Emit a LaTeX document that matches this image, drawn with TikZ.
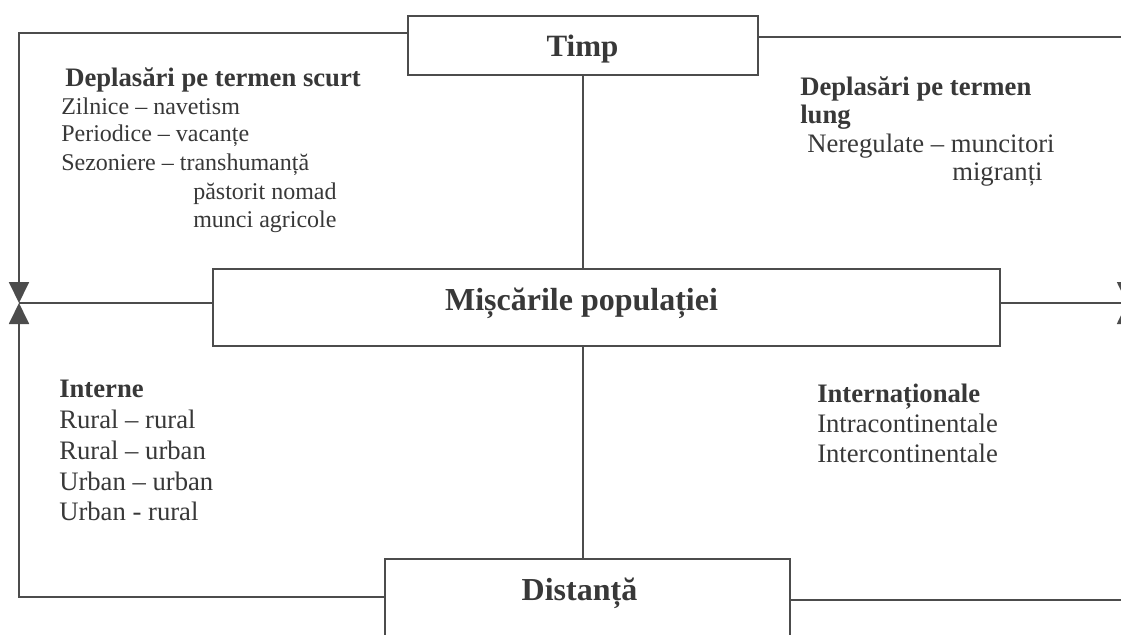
\documentclass[tikz,border=0pt]{standalone}
\usepackage{fontspec}
\setmainfont{Liberation Serif}
\usetikzlibrary{arrows.meta}
\definecolor{linec}{gray}{0.30}
\definecolor{textc}{gray}{0.22}
\begin{document}
\begin{tikzpicture}[x=0.75pt,y=-0.75pt,
  boxn/.style={draw=linec,line width=1.4pt,inner sep=0pt,rectangle},
  ln/.style={draw=linec,line width=1.4pt},
  arr/.style={-{Triangle[length=15.75pt,width=15pt]}},
  txt/.style={inner sep=0pt,anchor=base west,text=textc,font=\fontsize{20}{24}\selectfont},
  txts/.style={inner sep=0pt,anchor=base west,text=textc,font=\fontsize{18}{21}\selectfont},
  head/.style={inner sep=0pt,anchor=base west,text=textc,font=\fontsize{20}{24}\selectfont\bfseries},
  title/.style={inner sep=0pt,anchor=base,text=textc,font=\fontsize{24}{28}\selectfont\bfseries}]
\useasboundingbox (0,0) rectangle (1121,635);
\clip (0,0) rectangle (1121,635);
\fill[white] (0,0) rectangle (1121,635);
% boxes
\node[boxn,minimum width=262.5pt,minimum height=44.25pt] (tbox) at (583,45.5) {};
\node[boxn,minimum width=590.25pt,minimum height=57.75pt] (cbox) at (606.5,307.5) {};
\node[boxn,minimum width=303.75pt,minimum height=90.75pt] (dbox) at (587.5,619.5) {};
% box titles
\node[title,font=\fontsize{23.25}{28}\selectfont\bfseries] (ttimp) at (582.5,57) {Timp};
\node[title] (tmisc) at (581.5,310) {Mișcările populației};
\node[title] (tdist) at (579.5,600) {Distanță};
% frame coordinates
\coordinate (tl) at (19,33);
\coordinate (ml) at (19,303);
\coordinate (bl) at (19,597);
\coordinate (tr) at (1127,37);
\coordinate (mr) at (1127,303);
\coordinate (br) at (1127,600);
% connectors
\draw[ln,arr] (tbox.west |- tl) -- (tl) -- (ml);
\draw[ln] (cbox.west |- ml) -- (ml);
\draw[ln,arr] (dbox.west |- bl) -- (bl) -- (ml);
\draw[ln,arr] (tbox.east |- tr) -- (tr) -- (mr);
\draw[ln] (cbox.east |- mr) -- (mr);
\draw[ln,arr] (dbox.east |- br) -- (br) -- (mr);
\draw[ln] (tbox.south) -- (tbox.south |- cbox.north);
\draw[ln] (cbox.south -| tbox.south) -- (dbox.north -| tbox.south);
% top-left block
\node[head] (h1) at (65,87) {Deplasări pe termen scurt};
\node[txts] (a1) at (61,114) {Zilnice – navetism};
\node[txts] (a2) at (61,142) {Periodice – vacanțe};
\node[txts] (a3) at (61,170) {Sezoniere – transhumanță};
\node[txts] (a4) at (193,199) {păstorit nomad};
\node[txts] (a5) at (193,227) {munci agricole};
% top-right block
\node[head] (h2) at (800,95) {Deplasări pe termen};
\node[head] (h2b) at (800,123) {lung};
\node[txt] (b1) at (807,152) {Neregulate – muncitori};
\node[txt] (b2) at (952,180) {migranți};
% bottom-left block
\node[head] (h3) at (59,397) {Interne};
\node[txt] (c1) at (59,428) {Rural – rural};
\node[txt] (c2) at (59,459) {Rural – urban};
\node[txt] (c3) at (59,490) {Urban – urban};
\node[txt] (c4) at (59,520) {Urban - rural};
% bottom-right block
\node[head] (h4) at (817,402) {Internaționale};
\node[txt] (d1) at (817,432) {Intracontinentale};
\node[txt] (d2) at (817,462) {Intercontinentale};
\end{tikzpicture}
\end{document}
